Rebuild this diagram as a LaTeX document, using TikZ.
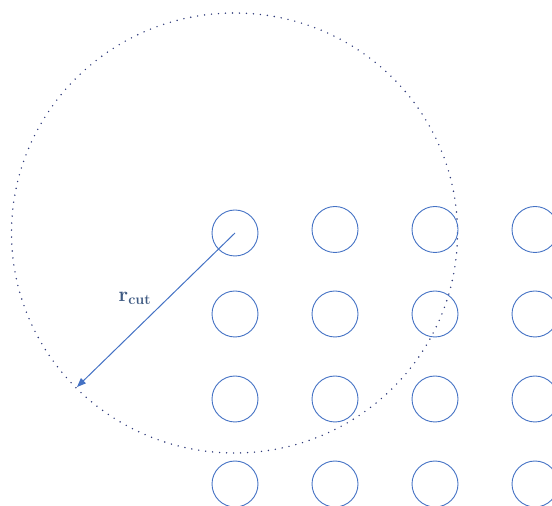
\documentclass[tikz,border=0pt]{standalone}
\usetikzlibrary{arrows.meta}
\definecolor{cblue}{HTML}{4472C4}
\definecolor{dnavy}{HTML}{2E3A7A}
\definecolor{lblue}{HTML}{3F5A82}
\tikzset{
  atom/.style={circle, draw=cblue, line width=0.9pt, minimum size=46pt, inner sep=0pt},
  cutoff/.style={draw=dnavy, line width=1.6pt, line cap=round, dash pattern=on 0pt off 7pt},
  radius arrow/.style={draw=cblue, line width=1pt, -{Triangle[length=9pt,width=7pt]}}
}
\begin{document}
\begin{tikzpicture}[x=1pt,y=1pt]
\useasboundingbox (0,0) rectangle (552,506);
% cutoff sphere
\draw[cutoff] (234.5,273) ellipse [x radius=223, y radius=220];
% lattice of atoms
\node[atom] (a11) at (235,273) {};
\node[atom] (a12) at (335,276.5) {};
\node[atom] (a13) at (435,276.5) {};
\node[atom] (a14) at (535,276.5) {};
\foreach \r/\y in {2/192,3/107,4/22}{
  \foreach \c/\x in {1/235,2/335,3/435,4/535}{
    \node[atom] (a\r\c) at (\x,\y) {};
  }
}
\coordinate (ctr) at (a11.center);
\coordinate (edge) at (77,119);
\draw[radius arrow] (ctr) -- (edge);
\node[text=lblue, font=\huge] (lbl) at (135,208) {$\mathbf{r}_{\mathbf{cut}}$};
\end{tikzpicture}
\end{document}
